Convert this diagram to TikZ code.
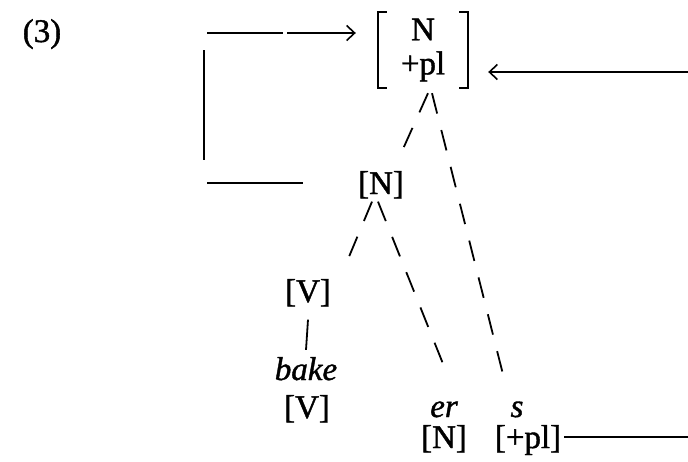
\documentclass[tikz,border=0pt]{standalone}
\usepackage{fontspec}
\setmainfont{Liberation Serif}[FakeBold=1.2]
\usetikzlibrary{arrows.meta}
\begin{document}
\begin{tikzpicture}[x=1pt,y=-1pt,
  txt/.style={font=\fontsize{33}{34}\selectfont},
  lbl/.style={txt, inner sep=0pt, anchor=base},
  conn/.style={line width=1.8pt},
  tree/.style={line width=1.8pt, dash pattern=on 21pt off 17pt},
  tip/.style={-{Straight Barb[length=8pt,width=15pt,line width=1.6pt]}},
  brk/.style={line width=2pt}]
\useasboundingbox (0,0) rectangle (688,461);

% example number
\node[lbl] (num) at (42,42) {(3)};

% bracketed feature bundle at the root
\node[txt, align=center, inner xsep=10pt, inner ysep=4pt,
      minimum height=76pt, minimum width=90pt] (top) at (423,50) {N\\+pl};
\draw[brk] ([xshift=9pt]top.north west) -- (top.north west) -- (top.south west) -- ([xshift=9pt]top.south west);
\draw[brk] ([xshift=-9pt]top.north east) -- (top.north east) -- (top.south east) -- ([xshift=-9pt]top.south east);

% tree nodes
\node[lbl] (mid) at (381,194) {[N]};
\node[lbl] (v1) at (308,302) {[V]};
\node[lbl] (bake) at (306,380) {\itshape bake};
\node[lbl] (v2) at (307,418) {[V]};
\node[lbl] (er) at (444,417) {\itshape er};
\node[lbl] (n2) at (444,448) {[N]};
\node[lbl] (s) at (517,417) {\itshape s};
\node[lbl] (pl) at (528,448) {[+pl]};

% dashed branches
\draw[tree] ([shift={(5,5)}]top.south) -- ([shift={(-6,-11)}]mid.north east);
\draw[tree] ([shift={(9,5)}]top.south) -- ([shift={(-11,-15)}]s.north);
\draw[tree] ([shift={(-9,3)}]mid.south) -- ([shift={(12,-8)}]v1.north east);
\draw[tree] ([shift={(-3,3)}]mid.south) -- ([shift={(4,-25)}]er.north);

% solid link between the two [V] levels
\draw[conn] ([yshift=-13pt]v1.south) -- ([yshift=7pt]bake.north);

% percolation lines
\coordinate (loopTop) at (207,33);
\coordinate (loopUp) at (204,50);
\coordinate (loopDown) at (204,160);
\coordinate (loopBot) at (207,183);
\coordinate (rightTop) at (688,72);
\coordinate (rightBot) at (688,437);
\draw[conn,tip,shorten >=22pt,dash pattern=on 76pt off 4pt on 300pt]
  (loopTop) -- (loopTop -| top.west);
\draw[conn] (loopUp) -- (loopDown);
\draw[conn,shorten >=55pt] (loopBot) -- (loopBot -| mid.west);
\draw[conn,tip,shorten >=20pt] (rightTop) -- (rightTop -| top.east);
\draw[conn] ([xshift=3pt]pl.east |- rightBot) -- (rightBot);
\end{tikzpicture}
\end{document}
